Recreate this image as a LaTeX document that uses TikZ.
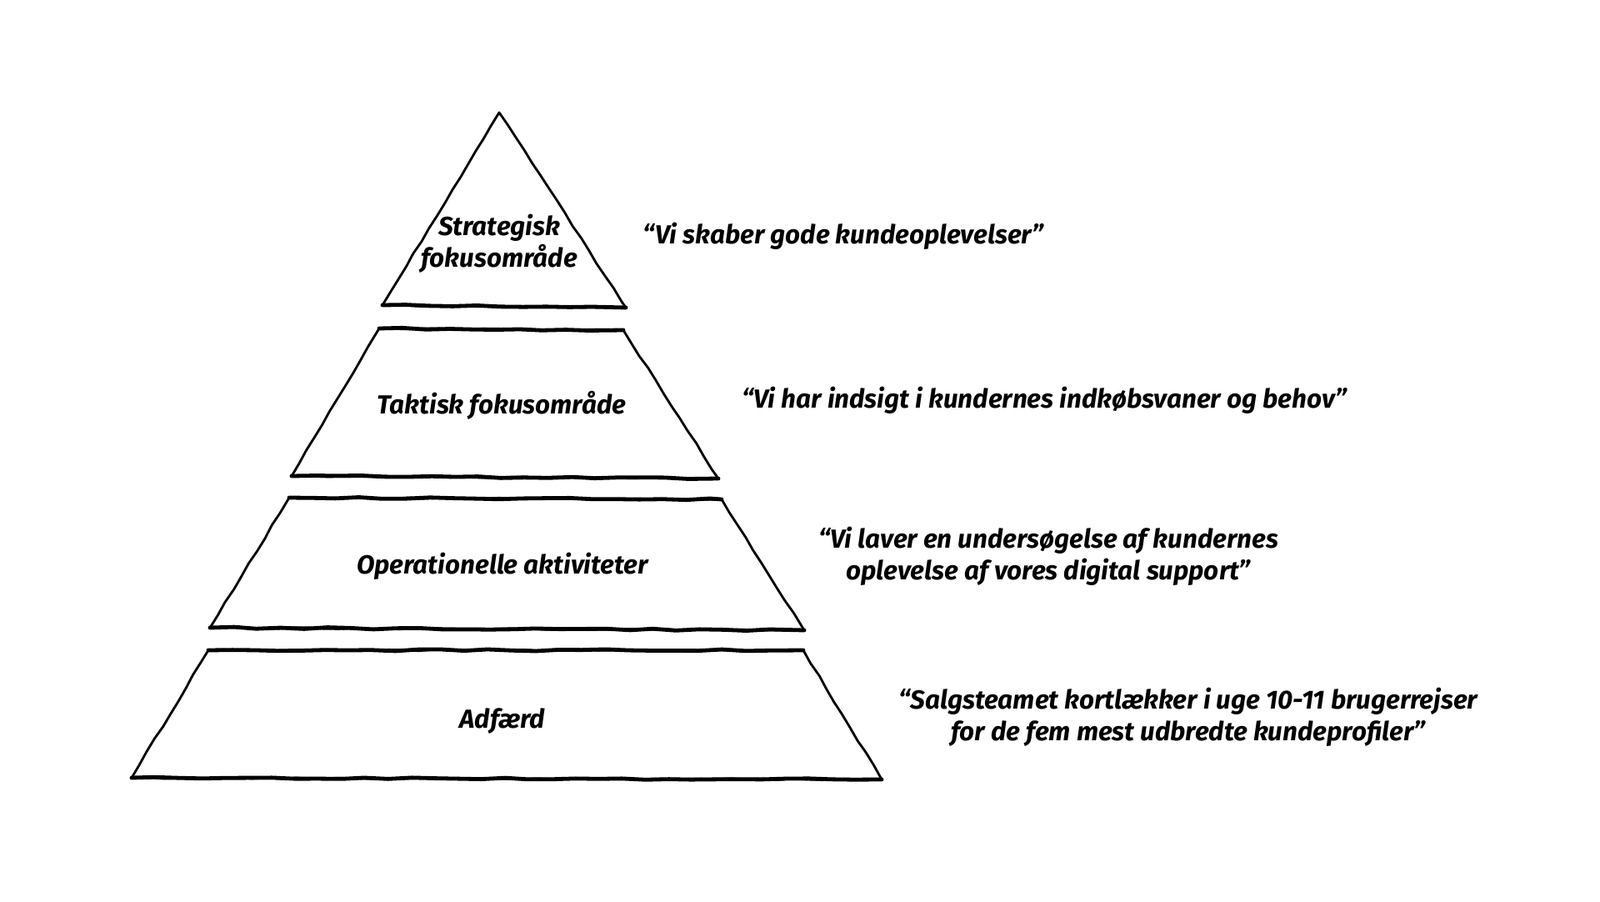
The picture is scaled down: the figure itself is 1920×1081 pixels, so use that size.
\documentclass[tikz,border=0pt]{standalone}
\usepackage{fontspec}
\setmainfont{Fira Sans}
\usetikzlibrary{decorations.pathmorphing}

\tikzset{
  side/.style={line width=1.4pt, line join=round, line cap=round,
    decorate, decoration={random steps, segment length=9pt, amplitude=0.4pt}},
  edge/.style={line width=2.4pt, line cap=round,
    decorate, decoration={random steps, segment length=14pt, amplitude=0.55pt}},
  lbl/.style={draw=none, align=center, font=\bfseries\itshape\fontsize{15.7}{18.8}\selectfont},
}

\begin{document}
\begin{tikzpicture}[x=0.5pt,y=-0.5pt]
\useasboundingbox (0,0) rectangle (1920,1081);
%% corners of the layers
\coordinate (top) at (599,135);
\coordinate (s_bl) at (459,366);  \coordinate (s_br) at (751,369);
\coordinate (t_tl) at (455,394);  \coordinate (t_tr) at (748,396);
\coordinate (t_bl) at (350,571);  \coordinate (t_br) at (862,574);
\coordinate (o_tl) at (347,597);  \coordinate (o_tr) at (866,599);
\coordinate (o_bl) at (252,753);  \coordinate (o_br) at (965,756);
\coordinate (a_tl) at (250,780);  \coordinate (a_tr) at (964,780);
\coordinate (a_bl) at (158,933);  \coordinate (a_br) at (1058,935);
%%
\draw [side] (top) -- (s_br) -- (s_bl) -- cycle;
\draw [edge] (s_bl) -- (s_br);
\draw [side] (t_tl) -- (t_tr) -- (t_br) -- (t_bl) -- cycle;
\draw [edge] (t_tl) -- (t_tr);
\draw [edge] (t_bl) -- (t_br);
\draw [side] (o_tl) -- (o_tr) -- (o_br) -- (o_bl) -- cycle;
\draw [edge] (o_tl) -- (o_tr);
\draw [edge] (o_bl) -- (o_br);
\draw [side] (a_tl) -- (a_tr) -- (a_br) -- (a_bl) -- cycle;
\draw [edge] (a_tl) -- (a_tr);
\draw [edge] (a_bl) -- (a_br);
%% layer texts
\node (strategisk) at (599,292) [lbl] {Strategisk\\fokusområde};
\node (taktisk) at (602,486) [lbl] {Taktisk fokusområde};
\node (operationel) at (603,679) [lbl] {Operationelle aktiviteter};
\node (adfaerd) at (603,865) [lbl] {Adfærd};
%% quotes
\node (q_strategisk) at (1012,283) [lbl] {“Vi skaber gode kundeoplevelser”};
\node (q_taktisk) at (1253,480) [lbl] {“Vi har indsigt i kundernes indkøbsvaner og behov”};
\node (q_operationel) at (1258,667) [lbl] {“Vi laver en undersøgelse af kundernes\\oplevelse af vores digital support”};
\node (q_adfaerd) at (1426,860) [lbl] {“Salgsteamet kortlækker i uge 10-11 brugerrejser\\for de fem mest udbredte kundeprofiler”};
%
\end{tikzpicture}
\end{document}
